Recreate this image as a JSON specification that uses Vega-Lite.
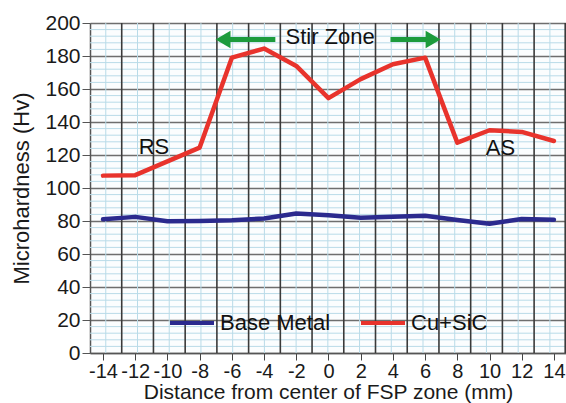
{
  "$schema": "https://vega.github.io/schema/vega-lite/v6.json",
  "width": 476,
  "height": 330,
  "autosize": {"type": "none"},
  "padding": {"left": 90, "top": 23, "right": 0, "bottom": 50},
  "background": "white",
  "config": {
    "view": {"stroke": null, "fill": "#fbfdfe"},
    "font": "Liberation Sans",
    "axis": {"labelOverlap": false, "labelFlush": false}
  },
  "datasets": {
    "hardness": [
      {"x": -14, "y": 107.5, "series": "Cu+SiC"},
      {"x": -12, "y": 107.8, "series": "Cu+SiC"},
      {"x": -8, "y": 124.5, "series": "Cu+SiC"},
      {"x": -6, "y": 179, "series": "Cu+SiC"},
      {"x": -4, "y": 184.5, "series": "Cu+SiC"},
      {"x": -2, "y": 174, "series": "Cu+SiC"},
      {"x": 0, "y": 154.5, "series": "Cu+SiC"},
      {"x": 2, "y": 166, "series": "Cu+SiC"},
      {"x": 4, "y": 175, "series": "Cu+SiC"},
      {"x": 6, "y": 179, "series": "Cu+SiC"},
      {"x": 8, "y": 127.5, "series": "Cu+SiC"},
      {"x": 10, "y": 135, "series": "Cu+SiC"},
      {"x": 12, "y": 134, "series": "Cu+SiC"},
      {"x": 14, "y": 128.5, "series": "Cu+SiC"},
      {"x": -14, "y": 81, "series": "Base Metal"},
      {"x": -12, "y": 82.5, "series": "Base Metal"},
      {"x": -10, "y": 79.8, "series": "Base Metal"},
      {"x": -8, "y": 80, "series": "Base Metal"},
      {"x": -6, "y": 80.5, "series": "Base Metal"},
      {"x": -4, "y": 81.5, "series": "Base Metal"},
      {"x": -2, "y": 84.5, "series": "Base Metal"},
      {"x": 0, "y": 83.5, "series": "Base Metal"},
      {"x": 2, "y": 82, "series": "Base Metal"},
      {"x": 4, "y": 82.6, "series": "Base Metal"},
      {"x": 6, "y": 83.2, "series": "Base Metal"},
      {"x": 8, "y": 80.6, "series": "Base Metal"},
      {"x": 10, "y": 78.3, "series": "Base Metal"},
      {"x": 12, "y": 81.2, "series": "Base Metal"},
      {"x": 14, "y": 80.8, "series": "Base Metal"}
    ],
    "vgrid": [
      {"x": -13.83, "kind": "minor"}, {"x": -11.86, "kind": "minor"}, {"x": -9.89, "kind": "minor"},
      {"x": -7.92, "kind": "minor"}, {"x": -5.95, "kind": "minor"}, {"x": -3.98, "kind": "minor"},
      {"x": -2.01, "kind": "minor"}, {"x": -0.04, "kind": "minor"}, {"x": 1.93, "kind": "minor"},
      {"x": 3.9, "kind": "minor"}, {"x": 5.87, "kind": "minor"}, {"x": 7.84, "kind": "minor"},
      {"x": 9.81, "kind": "minor"}, {"x": 11.78, "kind": "minor"}, {"x": 13.75, "kind": "minor"},
      {"x": -12.84, "kind": "major"}, {"x": -10.87, "kind": "major"}, {"x": -8.9, "kind": "major"},
      {"x": -6.93, "kind": "major"}, {"x": -4.96, "kind": "major"}, {"x": -2.99, "kind": "major"},
      {"x": -1.02, "kind": "major"}, {"x": 0.95, "kind": "major"}, {"x": 2.92, "kind": "major"},
      {"x": 4.89, "kind": "major"}, {"x": 6.86, "kind": "major"}, {"x": 8.83, "kind": "major"},
      {"x": 10.8, "kind": "major"}, {"x": 12.77, "kind": "major"}, {"x": 14.7, "kind": "major"}
    ],
    "hgrid": [
      {"y": 4}, {"y": 8}, {"y": 12}, {"y": 16},
      {"y": 24}, {"y": 28}, {"y": 32}, {"y": 36},
      {"y": 44}, {"y": 48}, {"y": 52}, {"y": 56},
      {"y": 64}, {"y": 68}, {"y": 72}, {"y": 76},
      {"y": 84}, {"y": 88}, {"y": 92}, {"y": 96},
      {"y": 104}, {"y": 108}, {"y": 112}, {"y": 116},
      {"y": 124}, {"y": 128}, {"y": 132}, {"y": 136},
      {"y": 144}, {"y": 148}, {"y": 152}, {"y": 156},
      {"y": 164}, {"y": 168}, {"y": 172}, {"y": 176},
      {"y": 184}, {"y": 188}, {"y": 192}, {"y": 196}
    ],
    "shafts": [
      {"x": -3.3, "x2": -6.3, "y": 190},
      {"x": 3.85, "x2": 6.2, "y": 190}
    ],
    "notes": [
      {"x": 0.1, "y": 191.5, "text": "Stir Zone"},
      {"x": -10.84, "y": 125, "text": "RS"},
      {"x": 10.68, "y": 124.2, "text": "AS"}
    ]
  },
  "layer": [
    {
      "data": {"name": "hgrid"},
      "mark": {"type": "rule", "color": "#b9dbe8", "strokeWidth": 1},
      "encoding": {
        "y": {"field": "y", "type": "quantitative"}
      }
    },
    {
      "data": {"name": "vgrid"},
      "transform": [{"filter": "datum.kind === 'minor'"}],
      "mark": {"type": "rule", "color": "#b9dbe8", "strokeWidth": 1},
      "encoding": {
        "x": {"field": "x", "type": "quantitative"}
      }
    },
    {
      "data": {"name": "vgrid"},
      "transform": [{"filter": "datum.kind === 'major'"}],
      "mark": {"type": "rule", "color": "#3a3a3a", "strokeWidth": 1.6},
      "encoding": {
        "x": {"field": "x", "type": "quantitative"}
      }
    },
    {
      "data": {"name": "hardness"},
      "mark": {"type": "line", "strokeWidth": 4.5, "strokeCap": "round", "strokeJoin": "round"},
      "encoding": {
        "x": {
          "field": "x", "type": "quantitative",
          "scale": {"domain": [-14.81, 14.75], "nice": false, "zero": false},
          "axis": {
            "values": [-14, -12, -10, -8, -6, -4, -2, 0, 2, 4, 6, 8, 10, 12, 14],
            "tickCount": 100,
            "labelExpr": "(datum.value < 0 ? '-' : '') + abs(datum.value)",
            "grid": false,
            "title": "Distance from center of FSP zone (mm)",
            "titleFontSize": 21, "titleFontWeight": "normal", "titleColor": "#1a1a1a",
            "titlePadding": 0,
            "labelFontSize": 20, "labelColor": "#1a1a1a", "labelPadding": 1,
            "labelOverlap": false, "labelFlush": false,
            "tickSize": 7, "tickColor": "#444", "domainColor": "#555", "domainWidth": 1.5
          }
        },
        "y": {
          "field": "y", "type": "quantitative",
          "scale": {"domain": [0, 200], "nice": false},
          "axis": {
            "values": [0, 20, 40, 60, 80, 100, 120, 140, 160, 180, 200],
            "tickCount": 100,
            "grid": true,
            "gridColor": "#6e6e6e",
            "gridWidth": 1.5,
            "labelOverlap": false,
            "tickSize": 8, "tickColor": "#555", "domainColor": "#555", "domainWidth": 1.5,
            "labelFontSize": 21, "labelColor": "#1a1a1a", "labelPadding": 2,
            "title": "Microhardness (Hv)",
            "titleFontSize": 22, "titleFontWeight": "normal", "titleColor": "#1a1a1a",
            "titlePadding": 11
          }
        },
        "color": {
          "field": "series", "type": "nominal",
          "scale": {"domain": ["Base Metal", "Cu+SiC"], "range": ["#2b2a8e", "#e8332c"]},
          "legend": {
            "title": null,
            "orient": "none",
            "legendX": 78,
            "legendY": 276,
            "direction": "horizontal",
            "symbolType": "stroke",
            "symbolSize": 1936,
            "symbolStrokeWidth": 4,
            "labelFontSize": 22,
            "labelColor": "#111",
            "labelOffset": 4,
            "columnPadding": 22,
            "padding": 0
          }
        }
      }
    },
    {
      "data": {"name": "shafts"},
      "mark": {"type": "rule", "color": "#1c9b3c", "strokeWidth": 5},
      "encoding": {
        "x": {"field": "x", "type": "quantitative"},
        "x2": {"field": "x2"},
        "y": {"field": "y", "type": "quantitative"}
      }
    },
    {
      "data": {"values": [{"x": -6.55, "y": 190}]},
      "mark": {"type": "point", "shape": "triangle-left", "filled": true, "color": "#1c9b3c", "size": 300, "opacity": 1},
      "encoding": {
        "x": {"field": "x", "type": "quantitative"},
        "y": {"field": "y", "type": "quantitative"}
      }
    },
    {
      "data": {"values": [{"x": 6.5, "y": 190}]},
      "mark": {"type": "point", "shape": "triangle-right", "filled": true, "color": "#1c9b3c", "size": 300, "opacity": 1},
      "encoding": {
        "x": {"field": "x", "type": "quantitative"},
        "y": {"field": "y", "type": "quantitative"}
      }
    },
    {
      "data": {"name": "notes"},
      "mark": {"type": "text", "fontSize": 22, "color": "#111", "baseline": "middle", "align": "center"},
      "encoding": {
        "x": {"field": "x", "type": "quantitative"},
        "y": {"field": "y", "type": "quantitative"},
        "text": {"field": "text"}
      }
    }
  ]
}
